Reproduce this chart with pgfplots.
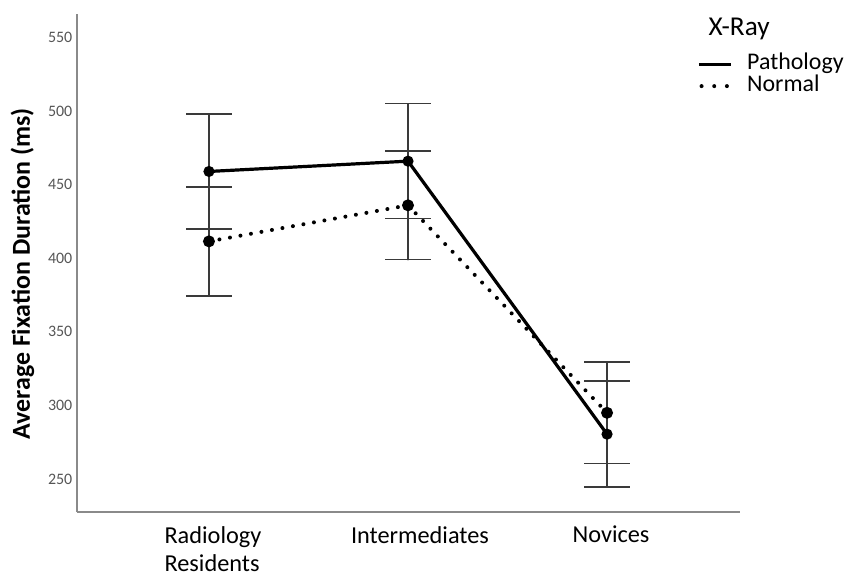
\documentclass[border=0pt]{standalone}
\usepackage{fontspec}
\setmainfont{Carlito}
\usepackage{pgfplots}
\pgfplotsset{compat=1.18}
\definecolor{tickgray}{HTML}{555555}
\definecolor{axgray}{HTML}{8A8A8A}
\definecolor{errgray}{HTML}{3A3A3A}
\begin{document}
\begin{tikzpicture}
\path[use as bounding box] (-57.75bp,-47.25bp) rectangle (576.75bp,384bp);
\begin{axis}[
  at={(0,0)}, anchor=south west,
  scale only axis, width=497.25bp, height=373.5bp,
  xmin=-0.663, xmax=2.668, ymin=227.6, ymax=566,
  axis x line*=bottom, axis y line*=left,
  axis line style={axgray, line width=1.3bp, -},
  xtick={0,1,2},
  xticklabels={{Radiology\\Residents},{\hspace*{12bp}Intermediates},{Novices}},
  xticklabel style={align=left, inner sep=0.5bp, font=\fontsize{18.3}{21}\selectfont, yshift=-10bp, xshift=3bp},
  ytick={250,300,350,400,450,500,550},
  yticklabel style={font=\fontsize{12}{14}\selectfont, text=tickgray},
  /pgf/number format/assume math mode=true,
  major tick length=0pt,
  ylabel={\bfseries Average Fixation Duration (ms)},
  ylabel style={font=\fontsize{19.5}{22}\selectfont, at={(rel axis cs:0,0.5)}, anchor=center, yshift=41bp, xshift=-8bp},
  legend style={draw=none, fill=none, at={(rel axis cs:0.9352,0.922)}, anchor=north west,
    font=\fontsize{18}{18}\selectfont, row sep=0pt, column sep=11bp, inner sep=0pt,
    nodes={inner sep=0pt, text height=12.5bp, text depth=4bp}},
  legend cell align=left,
  legend image code/.code={\draw[#1] (0bp,0bp) -- (24bp,0bp);},
  clip=false,
]
\addplot[black, line width=2.4bp, mark=*, mark size=2.9bp, mark options={solid},
  error bars/.cd, y dir=both, y explicit,
  error bar style={errgray, line width=1.1bp},
  error mark options={rotate=90, errgray, mark size=17bp, line width=1.1bp}]
  coordinates {
  (0,459) +- (0,39)
  (1,466) +- (0,39)
  (2,280.5) +- (0,36)
};
\addlegendentry{Pathology}
\addplot[black, line width=3bp, line cap=round, dash pattern=on 0pt off 8bp, mark=*, mark size=2.9bp, mark options={solid},
  legend image code/.code={\draw[black, line width=3bp, line cap=round, dash pattern=on 0pt off 9.5bp] (2bp,0bp) -- (22bp,0bp);},
  error bars/.cd, y dir=both, y explicit,
  error bar style={errgray, line width=1.1bp, solid},
  error mark options={rotate=90, errgray, mark size=17bp, line width=1.1bp, solid}]
  coordinates {
  (0,411.5) +- (0,37)
  (1,436) +- (0,37)
  (2,295) +- (0,34.5)
};
\addlegendentry{Normal}
\node[anchor=west, font=\fontsize{20.5}{21}\selectfont] at (rel axis cs:0.9455,0.970) {X-Ray};
\end{axis}
\end{tikzpicture}
\end{document}
